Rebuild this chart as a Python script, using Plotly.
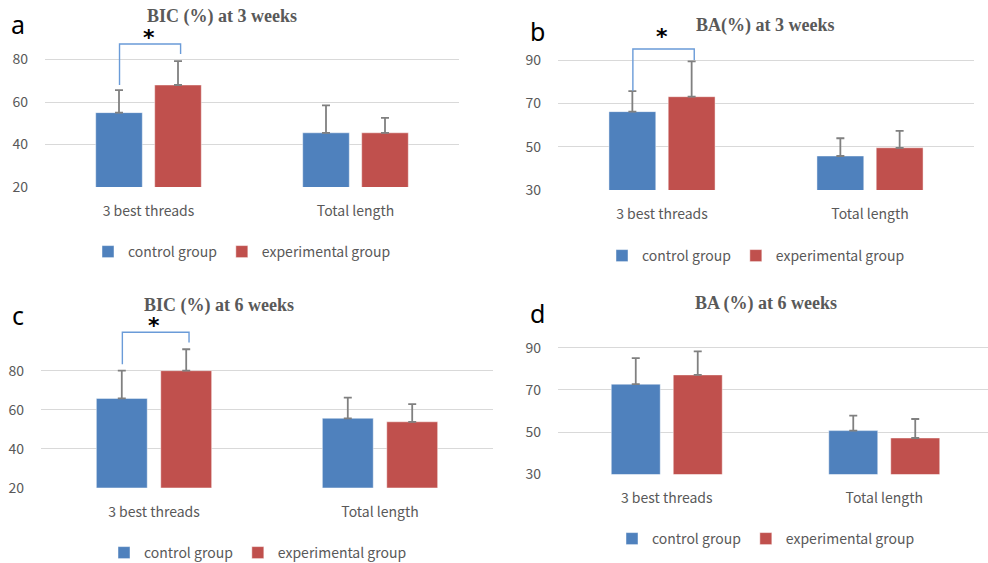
import plotly.graph_objects as go

W, H = 988, 563

categories = ["3 best threads", "Total length"]
groups = ["control group", "experimental group"]

bic3_control = [55.0, 45.5]
bic3_control_sd = [10.6, 12.9]
bic3_exp = [68.0, 45.5]
bic3_exp_sd = [11.2, 7.0]

ba3_control = [66.2, 45.7]
ba3_control_sd = [9.5, 8.2]
ba3_exp = [73.1, 49.5]
ba3_exp_sd = [16.3, 7.8]

bic6_control = [65.8, 55.6]
bic6_control_sd = [14.2, 10.6]
bic6_exp = [80.0, 53.8]
bic6_exp_sd = [11.0, 9.1]

ba6_control = [72.7, 50.7]
ba6_control_sd = [12.4, 7.1]
ba6_exp = [77.1, 47.2]
ba6_exp_sd = [11.2, 9.0]

titles = ["BIC (%) at 3 weeks", "BA(%) at 3 weeks", "BIC (%) at 6 weeks", "BA (%) at 6 weeks"]
letters = ["a", "b", "c", "d"]
ticks_bic = [20, 40, 60, 80]
ticks_ba = [30, 50, 70, 90]

# significance brackets: (panel, top, left bottom, right bottom, star y)
brackets = [
    (0, 87.3, 68.0, 82.6, 90.5),
    (1, 95.1, 75.9, 90.0, 101.0),
    (2, 99.7, 83.3, 94.4, 103.0),
]

BLUE = "#4F81BD"
RED = "#C0504D"
GRAY = "#595959"


def px(x):
    return x / W


def py(y):
    return 1 - y / H


# panel layout in pixels: (x0, x1, y_bottom, y_top, ymin, px per 20 units, xmax)
panels = [
    (45, 459, 187.0, 30, 20, 42.5, 1.5),
    (558, 974, 190.0, 30, 30, 43.3, 1.5),
    (41, 493, 487.7, 318, 20, 39.0, 1.5),
    (558, 988, 474.3, 340, 30, 42.2, -0.5 + (988 - 558) / 217.5),
]

datasets = [
    (bic3_control, bic3_control_sd, bic3_exp, bic3_exp_sd, ticks_bic),
    (ba3_control, ba3_control_sd, ba3_exp, ba3_exp_sd, ticks_ba),
    (bic6_control, bic6_control_sd, bic6_exp, bic6_exp_sd, ticks_bic),
    (ba6_control, ba6_control_sd, ba6_exp, ba6_exp_sd, ticks_ba),
]

title_pos = [(222, 17), (765, 26), (219, 305), (766, 303)]
letter_pos = [(18, 24), (537, 31), (18, 315), (537, 313)]
legend_pos = [(242, 252), (756, 256), (258, 553), (766, 539)]

fig = go.Figure()
layout = {}
annotations = []
shapes = []

for i, (ds, pn) in enumerate(zip(datasets, panels)):
    c, csd, e, esd, tv = ds
    x0, x1, yb, yt, ymin, per20, xmax = pn
    sfx = "" if i == 0 else str(i + 1)
    leg = "legend" if i == 0 else "legend" + str(i + 1)
    for name, vals, sd, col in [(groups[0], c, csd, BLUE), (groups[1], e, esd, RED)]:
        fig.add_trace(go.Bar(
            x=categories, y=vals, name=name,
            marker=dict(color=col, line=dict(color="rgba(255,255,255,0.45)", width=1)),
            error_y=dict(type="data", array=sd, arrayminus=[0] * len(sd), symmetric=False,
                         color="#808080", thickness=1.8, width=4),
            xaxis="x" + sfx, yaxis="y" + sfx, legend=leg, offsetgroup=name,
        ))
    ymax = ymin + (yb - yt) / per20 * 20
    layout["xaxis" + sfx] = dict(
        domain=[px(x0), px(x1)], anchor="y" + sfx, type="category",
        range=[-0.5, xmax], showgrid=False, showline=False, ticks="",
        tickfont=dict(family="Noto Sans CJK KR", size=14, color=GRAY),
        ticklabelstandoff=14, fixedrange=True, automargin=False,
    )
    layout["yaxis" + sfx] = dict(
        domain=[py(yb), py(yt)], anchor="x" + sfx, range=[ymin, ymax],
        tickvals=tv, showgrid=True, gridcolor="#D9D9D9", gridwidth=1,
        zeroline=False, showline=False, ticks="",
        tickfont=dict(family="Noto Sans CJK KR", size=14, color=GRAY),
        ticklabelstandoff=16, fixedrange=True, automargin=False,
    )
    lx, ly = legend_pos[i]
    layout[leg] = dict(
        orientation="h", x=px(lx), y=py(ly), xanchor="center", yanchor="middle",
        font=dict(family="Noto Sans CJK KR", size=14, color=GRAY),
        bgcolor="rgba(0,0,0,0)", itemclick=False, itemdoubleclick=False,
        itemwidth=30, tracegroupgap=0,
    )
    tx, ty = title_pos[i]
    annotations.append(dict(
        text="<b>" + titles[i] + "</b>", x=px(tx), y=py(ty), xref="paper", yref="paper",
        showarrow=False, xanchor="center", yanchor="middle",
        font=dict(family="Liberation Serif", size=18, color=GRAY),
    ))
    lx2, ly2 = letter_pos[i]
    annotations.append(dict(
        text=letters[i], x=px(lx2), y=py(ly2), xref="paper", yref="paper",
        showarrow=False, xanchor="center", yanchor="middle",
        font=dict(family="Noto Sans", size=25, color="#000000"),
    ))

for (pi, top, lb, rb, sy) in brackets:
    sfx = "" if pi == 0 else str(pi + 1)
    xl, xr = -0.14, 0.155
    shapes.append(dict(
        type="path", xref="x" + sfx, yref="y" + sfx,
        path=f"M {xl},{lb} L {xl},{top} L {xr},{top} L {xr},{rb}",
        line=dict(color="#6A9BD8", width=1.4),
    ))
    annotations.append(dict(
        text="<b>*</b>", x=0.0, y=sy, xref="x" + sfx, yref="y" + sfx, showarrow=False,
        xanchor="center", yanchor="middle",
        font=dict(family="DejaVu Sans", size=22, color="#000000"),
    ))

fig.update_layout(
    **layout,
    width=W, height=H, margin=dict(l=0, r=0, t=0, b=0, autoexpand=False),
    paper_bgcolor="white", plot_bgcolor="white",
    barmode="group", bargap=0.43, bargroupgap=0.21,
    annotations=annotations, shapes=shapes,
)

fig.write_html(
    "out.html",
    config={"displayModeBar": False},
    post_script="document.body.style.margin='0';document.body.style.padding='0';"
                "document.body.style.overflow='hidden';",
)
